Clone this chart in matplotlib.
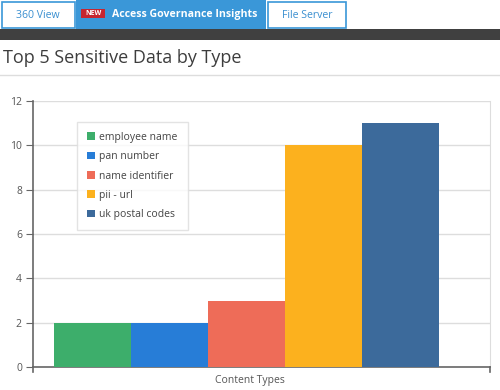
import matplotlib
matplotlib.use("Agg")
import matplotlib.pyplot as plt
from matplotlib.patches import Rectangle
from matplotlib.lines import Line2D

categories = ["employee name", "pan number", "name identifier", "pii - url", "uk postal codes"]
values = [2, 2, 3, 10, 11]
colors = ["#3dae6b", "#277dd7", "#ee6c58", "#fcb11e", "#3c6a9b"]
yticks = [0, 2, 4, 6, 8, 10, 12]
xlabel = "Content Types"
title = "Top 5 Sensitive Data by Type"
tabs = ["360 View", "Access Governance Insights", "File Server"]

plt.rcParams['font.family'] = ['Open Sans', 'DejaVu Sans']

W, H = 500, 390
fig = plt.figure(figsize=(W / 100, H / 100), dpi=100)

def fx(x):
    return x / W

def fy(y):
    return 1 - y / H

def rect(x0, y0, x1, y1, **kw):
    fig.add_artist(Rectangle((fx(x0), fy(y1)), fx(x1) - fx(x0), fy(y0) - fy(y1),
                             transform=fig.transFigure, **kw))

# Tabs
rect(1.5, 1.5, 74.5, 28, facecolor="white", edgecolor="#3a97d8", linewidth=1.2)
rect(76, 0, 266, 29, facecolor="#3a97d8", edgecolor="none")
rect(267.5, 1.5, 346, 28, facecolor="white", edgecolor="#3a97d8", linewidth=1.2)
fig.text(fx(38), fy(15.5), tabs[0], color="#3a8fd0", fontsize=7.6, ha="center", va="center")
rect(81, 9, 105, 18, facecolor="#c62630", edgecolor="none")
fig.text(fx(93), fy(13.5), "NEW", color="white", fontsize=5, fontweight="bold", ha="center", va="center")
fig.text(fx(112), fy(14.5), tabs[1], color="white", fontsize=7.6, fontweight="bold", ha="left", va="center")
fig.text(fx(307), fy(15.5), tabs[2], color="#3a8fd0", fontsize=7.6, ha="center", va="center")
# dark bar
rect(0, 29, 500, 40, facecolor="#404040", edgecolor="none")
# title
fig.text(fx(3), fy(58), title, color="#3d3d3d", fontsize=13.0, ha="left", va="center")
fig.add_artist(Line2D([0, 1], [fy(75), fy(75)], transform=fig.transFigure, color="#dddddd", linewidth=1))

# Axes
left, right, top, bottom = 33, 490, 101, 367
ax = fig.add_axes([fx(left), fy(bottom), fx(right) - fx(left), fy(top) - fy(bottom)])
x = list(range(len(values)))
bars = ax.bar(x, values, width=1.0, color=colors, label=categories, zorder=3)
axw_units = (right - left) / 77.0
x0 = -0.5 - (54 - left) / 77.0
ax.set_xlim(x0, x0 + axw_units)
ax.set_ylim(0, 12)
ax.set_yticks(yticks)
ax.set_xticks([])
ax.tick_params(axis="y", length=5, color="#666666", labelcolor="#555555", labelsize=7.5, pad=3)
ax.grid(axis="y", color="#dddddd", linewidth=1, zorder=0)
for s in ["left", "bottom"]:
    ax.spines[s].set_color("#666666")
    ax.spines[s].set_linewidth(1.2)
ax.spines["top"].set_visible(False)
ax.spines["right"].set_color("#dddddd")
# x-axis end ticks
for xp in (left, right):
    fig.add_artist(Line2D([fx(xp), fx(xp)], [fy(bottom), fy(bottom + 5)], transform=fig.transFigure,
                          color="#666666", linewidth=1.2))
fig.text(fx(250), fy(380), xlabel, color="#555555", fontsize=7.5, ha="center", va="center")

leg = ax.legend(handles=bars, labels=categories, loc="upper left",
                bbox_to_anchor=((77 - left) / (right - left), 1 - (122 - top) / (bottom - top)),
                borderaxespad=0,
                frameon=True, fancybox=False, fontsize=7.5, handlelength=0.75, handleheight=0.75,
                handletextpad=0.45, labelspacing=0.8, borderpad=0.95, labelcolor="#444444")
leg.get_frame().set_edgecolor("#dddddd")
leg.get_frame().set_linewidth(1)

fig.savefig("out.png", dpi=100)
